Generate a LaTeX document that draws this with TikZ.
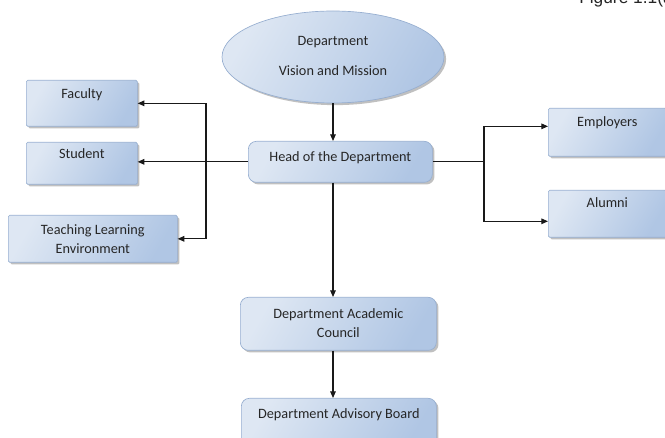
\documentclass[tikz,border=0pt]{standalone}
\usepackage{fontspec}
\setmainfont{Carlito}
\newfontfamily\figfont{Liberation Sans}
\usetikzlibrary{arrows.meta,shapes.geometric,shadows}

\definecolor{panelA}{RGB}{176,198,228}
\definecolor{panelB}{RGB}{222,231,243}
\definecolor{panelEdge}{RGB}{150,174,208}
\definecolor{linkInk}{RGB}{25,25,25}

\tikzset{
  panel/.style={draw=panelEdge, line width=0.5pt,
    left color=panelB, right color=panelA, shading angle=60,
    drop shadow={shadow xshift=1.6pt, shadow yshift=-1.6pt, fill=black!45, opacity=0.55},
    inner xsep=0pt, inner ysep=0pt, anchor=north west, align=center,
    font=\fontsize{10.7}{14.25}\selectfont, text=black!85},
  sqbox/.style={panel, rectangle, rounded corners=1pt},
  rndbox/.style={panel, rectangle, rounded corners=6pt},
  oval/.style={panel, ellipse, anchor=center,
    font=\fontsize{10.7}{23}\selectfont},
  link/.style={draw=linkInk, line width=0.8pt},
  arr/.style={link, -{Triangle[length=5pt,width=4.2pt]}},
  arr2/.style={link, {Triangle[length=5pt,width=4.2pt]}-{Triangle[length=5pt,width=4.2pt]}}
}

\begin{document}
\begin{tikzpicture}[x=0.75pt, y=-0.75pt]
  \useasboundingbox (0,0) rectangle (665,438);
  \clip (0,0) rectangle (665,438);

  % caption fragment at the top right
  \node[anchor=base west, inner sep=0pt, font=\figfont\fontsize{13}{15}\selectfont, text=black!85]
    (fig) at (579,3.5) {Figure 1.1(a)};

  % vision and mission
  \node[oval, minimum width=166.5pt, minimum height=69pt,
        text height=36.75pt, text depth=8.25pt] (vm) at (333,57)
        {Department\\Vision and Mission};

  % head of the department
  \node[rndbox, minimum width=138pt, minimum height=30.75pt,
        text height=15pt, text depth=15.75pt] (hod) at (248,141)
        {Head of the Department};

  % left branch
  \node[sqbox, minimum width=83.25pt, minimum height=34.5pt,
        text height=13.5pt, text depth=21pt] (fac) at (26,80) {Faculty};
  \node[sqbox, minimum width=83.25pt, minimum height=31.5pt,
        text height=12pt, text depth=19.5pt] (stu) at (26,142) {Student};
  \node[sqbox, minimum width=126.75pt, minimum height=35.25pt,
        text height=28.5pt, text depth=6.75pt] (tle) at (8,215)
        {Teaching Learning\\Environment};

  % right branch
  \node[sqbox, minimum width=88.5pt, minimum height=36pt,
        text height=13.5pt, text depth=22.5pt] (emp) at (548,108) {Employers};
  \node[sqbox, minimum width=88.5pt, minimum height=35.25pt,
        text height=12.75pt, text depth=22.5pt] (alu) at (548,190) {Alumni};

  % lower chain
  \node[rndbox, minimum width=147pt, minimum height=39.75pt,
        text height=30pt, text depth=9.75pt] (dac) at (240,297)
        {Department Academic\\Council};
  \node[rndbox, minimum width=146.25pt, minimum height=37.5pt,
        text height=15pt, text depth=22.5pt] (dab) at (241,398)
        {Department Advisory Board};

  % junction points of the two side branches
  \coordinate (lj) at (206,0 |- hod.west);
  \coordinate (rj) at (484,0 |- hod.east);
  \coordinate (empin) at ([yshift=4.5pt]emp.west);
  \coordinate (aluin) at ([yshift=-5.6pt]alu.west);

  % connectors
  \draw[arr] (vm.south) -- (vm.south |- hod.north);
  \draw[arr] (hod.west) -- (stu.east |- hod.west);
  \draw[arr2] (fac.east) -| (lj) |- (tle.east);
  \draw[link] (hod.east) -- (rj);
  \draw[arr2] (empin) -| (rj) |- (aluin);
  \draw[arr] (vm.south |- hod.south) -- (vm.south |- dac.north);
  \draw[arr] (vm.south |- dac.south) -- (vm.south |- dab.north);
\end{tikzpicture}
\end{document}
